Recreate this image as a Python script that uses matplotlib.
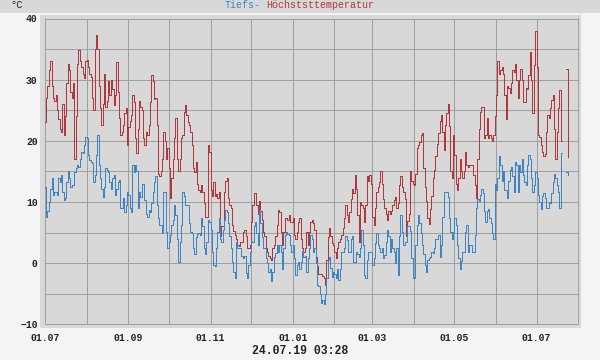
import matplotlib
matplotlib.use("Agg")
import matplotlib.pyplot as plt
import matplotlib.dates as mdates
from matplotlib.patches import Rectangle
from matplotlib.ticker import MultipleLocator
import numpy as np
import pandas as pd

# daily max / min temperature, 01.07.2018 - 24.07.2019
nan = np.nan
tmax = [
    # Jul 18
    23, 27, 29, 31.5, 33, 29, 27, 26.5, 27.5, 25, 23.5, 22, 21.5, 26, 21, 24, 29.5, 32.5, 31.5, 28,
    27, 29.5, 17, 24, 32.5, 34.8, 33, 32, 31, 30.3, 33,
    # Aug
    33.2, 32, 31, 30.5, 27, 25, 35, 37.3, 35, 29, 25.3, 22.6, 26, 31, 25.5, 26.5, 29.7, 27.5, 29.9, 28.5,
    25.8, 27.5, 32.9, 28, 23.7, 21, 21.5, 22.6, 24.5, 25.3, 19.3,
    # Sep
    22.3, 23.2, 24.2, 27.5, 26.4, 20.5, 18, 22, 26.5, 25.5, 25, 20.5, 19.3, 21.5, 21, 22.6, 26.4, 30.7, 29.7, 26.9,
    27, 22.6, 14.6, 14.2, 15, 17.1, 21.5, 19.9, 17.1, 18.8,
    # Oct
    15.5, 10.6, 13.9, 17.1, 20.4, 23.7, 17.1, 15, 17.1, 20.4, 20.9, 24.7, 25.8, 24.2, 23.1, 22.6, 21.5, 19.3, 15.5, 14.9,
    16.6, 13, 12, 11.7, 12.8, 11.7, 9.8, 7.5, 7.5, 19.3, 18.2,
    # Nov
    12, 11, 13.3, 11, 11.3, 10.6, 11.7, 4.5, 6, 6, 11.7, 13.5, 13.9, 10.6, 9.5, 9, 6.2, 5.2, 4.6, 4.0,
    3.0, 2.8, 3.5, 3.5, 5.1, 5.4, 4.5, 2.4, 2.4, 3,
    # Dec
    6.7, 9.5, 11.5, 11.5, 9.5, 8, 10.2, 8.6, 7, 5.1, 4.4, 2.5, 1.9, 1.2, 0.8, 0.5, 2.4, 3, 4.5, 6.2,
    8.7, 8.4, 5.1, 3, 5.1, 7.3, 7.3, 7.1, 7.9, 6.7, 6.7,
    # Jan 19
    7.3, 4.6, 4, 5.1, 6.8, 7.3, 4, 2.4, 1.9, 2.4, 5.1, 3, 5.1, 6.8, 7.1, 6.5, 5.5, 1, -0.5, -1.7,
    -1.8, -1.7, -2.1, -2.5, -3.6, 0.5, 4.2, 5.7, 4.5, 3.3, 3.0,
    # Feb
    1.9, 0.8, 2.4, 3.5, 4, 4.6, 5.7, 7.3, 9.5, 7.9, 6.8, 8.4, 10.5, 12.2, 11.5, 14.4, 12.2, 7.9, 3.5, 10.0,
    9.5, 9, 6.8, 9.5, 14.2, 13.5, 14.4, 13,
    # Mar
    7.6, 6.2, 9, 11.7, 12.5, 13.3, 15, 13, 10.5, 9, 8, 7, 8.6, 8, 8.6, 9.5, 10.3, 10.8, 9, 9.8,
    12.8, 14.2, 12.5, 11.7, 10.5, 4.5, 6.9, 8, 15, 13.5, 13,
    # Apr
    12.8, 14.5, 18.8, 19.3, 19.8, 20.9, 21.2, 15.5, 12.5, 10.2, 7.3, 6.4, 8.8, 10.9, 14, 15.2, 17.5, 19.5, 21.2, 23.2,
    24.2, 21.5, 18.5, 22.6, 24.5, 26, 22.5, 15, 13.9, 20.9,
    # May
    17.6, 13, 11.9, 13.9, 17.1, 15, 13.9, 15, 18.2, 16, 15.8, 16, 16, 16, 14.4, 12.8, 10.6, 17, 22, 24.7,
    25.5, 25.5, 20.4, 21, 23.7, 20.4, 20.9, 20.4, 19.9, 21, 24,
    # Jun
    27.5, 33, 31, 31.5, 32, 31, 27.5, 23.5, 29, 28.6, 27.8, 29.5, 31.5, 31.2, 32.5, 30, 27, 30, 31.8, 30,
    26.4, 26.4, 28.6, 28.4, 30.7, 34.6, 30, 24.5, 32.4, 38,
    # Jul
    32, 20.9, 20.7, 19.3, 18.2, 17.5, 17.9, 21.5, 24.2, 23.7, 25.3, 26.7, 27.5, 22, 17, 21.5, 25.3, 28.3, 19.9, nan,
    nan, nan, 31.8, 17.4,
]
tmin = [
    # Jul 18
    12.5, 7.5, 8.5, 10, 12.2, 13.9, 11.1, 11.7, 11.7, 11.1, 13.9, 13.3, 14.4, 11.7, 10.3, 10.6, 13.3, 15, 13.9, 12.5,
    12.8, 12.8, 14.9, 15.5, 16, 15.8, 17.1, 18.2, 18, 19.3, 20.7,
    # Aug
    20.5, 17.7, 16.8, 16.6, 16.3, 13.3, 14.4, 17.7, 21, 16, 13.9, 12.2, 10.8, 12.5, 15.5, 15.2, 14.9, 13.3, 12.2, 13.9,
    14.4, 11.1, 12.2, 13.3, 13.6, 9.0, 9.0, 10.6, 8.4, 9.5, 11.7,
    # Sep
    11.1, 9.0, 8.4, 16, 14.9, 16, 15, 9, 11.7, 10.8, 13, 13, 10.3, 8, 7.5, 8.7, 8.4, 9.8, 11.7, 13.3,
    14.2, 9.5, 7.3, 6.2, 6.2, 5, 11.7, 11.7, 5.1, 2.4,
    # Oct
    3.5, 4.6, 6.2, 7, 9.5, 7.9, 4, 0.2, 3.5, 6.2, 11.7, 11, 9.5, 9.5, 9.5, 6.5, 5.1, 5, 2.4, 1.5,
    4.2, 4.8, 5, 4.6, 7.3, 6, 2.4, 1.5, 3.5, 7, 6.8,
    # Nov
    5.5, 1.9, -0.3, -0.5, 2.5, 5.1, 7.3, 4, 3.5, 5.5, 7, 8.7, 8.3, 6.5, 4.5, 2.5, 0.2, -1.4, -2.5, 3.5,
    2.5, 2.4, 2.4, 1.2, 0.8, 1.2, -1.6, -2.5, -0.3, 1.9,
    # Dec
    3.6, 3.5, 6, 6.8, 5, 3, 8.7, 6.5, 4.2, 2.4, 2.4, 0.8, 0, -1.4, -1, -3.0, -1.4, 1, 1.6, 3,
    1.9, 3, 1.9, -0.9, 2.4, 4.6, 5.1, 4.8, 4.6, 3, 1.9,
    # Jan 19
    3, 0.8, -1.9, -0.3, 0.2, -0.9, 0.2, 2, 1, 1.2, -1.4, 0.8, 2.5, 4.6, 4, 1.9, 2.5, 0, -3.5, -3.8,
    -5, -6.5, -6, -6.6, -5, -2.5, 0.5, 1, -0.8, -2.3, -1.4,
    # Feb
    -1.7, -2.4, -0.9, -2.8, -0.9, 1.8, 1.9, 2.5, 4.5, 3.8, 1.9, 1.9, 4, 4.5, 0.2, 0.2, 1.9, 1.5, 1, 2.4,
    5.5, 3, -1.9, -2.5, 0.5, 1.9, 1.9, 1.9,
    # Mar
    -0.3, 0.8, 3.3, 5, 3, 2.4, 1.9, 2.4, 0.8, 1.3, 3.5, 5.5, 4.5, 1.9, 4, 2.5, 1.9, 0, 2.4, -1.9,
    4.5, 7.9, 5.1, 3, 3.5, 3.5, 6, 6, 5.2, 0.8, -2.5,
    # Apr
    -2.5, 3, 6.2, 7.9, 6.5, 5, 3, 1.5, -0.3, -1.4, 0.5, 0.8, 1, 1.9, 1.6, 2.4, 4, 4, 4.6, 1,
    3, 7.5, 11.7, 11.7, 11.7, 10.8, 7.3, 5.1, 4, 5.1,
    # May
    7.3, 6.2, 3, 0.8, -0.9, 0.3, 1.9, 1.9, 5.1, 6.2, 1.9, 3, 3, 1.9, 1.9, 4.6, 9.0, 10.5, 10.2, 11.2,
    12.2, 11.5, 8.5, 6.8, 8.6, 8.8, 7.3, 6.5, 5, 4, 13,
    # Jun
    12, 14, 17.5, 16, 13.5, 15, 12, 12, 10.6, 13.5, 15.2, 15.8, 14.3, 11.7, 16.6, 16, 11.7, 16, 14.9, 17.1,
    14.4, 13.3, 12.8, 16, 17.7, 17, 13.9, 11.7, 12.8, 14.9,
    # Jul
    13.9, 11.2, 10, 8.8, 11, 11.5, 10.6, 9, 9, 10, 9.8, 11.5, 13.3, 14.5, 14, 12.8, 11.7, 9, 18.0, nan,
    nan, nan, 14.9, 14.4,
]
days = pd.date_range("2018-07-01", periods=len(tmax), freq="D")
month_labels = ["01.07", "01.09", "01.11", "01.01", "01.03", "01.05", "01.07"]

RED = "#b3373a"
BLUE = "#3d84c4"
GRID = "#a0a0a0"
MONO = "Liberation Mono"
PX = 0.72  # one pixel at 100 dpi

fig = plt.figure(figsize=(6, 3.6), dpi=100, facecolor="#f4f4f4")
# header band and panel behind the plot
fig.patches.append(Rectangle((0, 1 - 13 / 360), 1, 13 / 360, transform=fig.transFigure,
                             facecolor="#d8d8d8", edgecolor="none", zorder=-2))
fig.patches.append(Rectangle((40 / 600, 32 / 360), 541 / 600, 313 / 360, transform=fig.transFigure,
                             facecolor="#d8d8d8", edgecolor="none", zorder=-2))

ax = fig.add_axes([44.8 / 600, 1 - 324.3 / 360, 533.5 / 600, 305.8 / 360])
ax.set_zorder(2)
ax.set_facecolor("#d8d8d8")

ax.plot(days, tmax, color=RED, lw=PX, drawstyle="steps-post", antialiased=False, zorder=3)
ax.plot(days, tmin, color=BLUE, lw=PX, drawstyle="steps-post", antialiased=False, zorder=3)

ax.set_xlim(pd.Timestamp("2018-07-01"), pd.Timestamp("2019-08-01"))
ax.set_ylim(-10, 40)

ax.xaxis.set_major_locator(mdates.MonthLocator(bymonth=[1, 3, 5, 7, 9, 11]))
ax.xaxis.set_minor_locator(mdates.MonthLocator())
ax.set_xticks(ax.get_xticks())
ax.set_xticklabels(month_labels)
ax.yaxis.set_major_locator(MultipleLocator(10))
ax.yaxis.set_minor_locator(MultipleLocator(5))

ax.grid(True, which="both", color=GRID, lw=PX, antialiased=False)
ax.set_axisbelow(True)
ax.tick_params(which="both", length=0)
ax.tick_params(axis="x", pad=6)
ax.tick_params(axis="y", pad=5)
for lab in ax.get_xticklabels() + ax.get_yticklabels():
    lab.set_fontfamily(MONO)
    lab.set_fontsize(7)
    lab.set_fontweight("bold")
    lab.set_color("#222222")
for s in ax.spines.values():
    s.set_color(GRID)
    s.set_linewidth(PX)
    s.set_antialiased(False)

# header texts
fig.text(10 / 600, 1 - 5 / 360, "°C", family=MONO, fontsize=7.5, va="center", ha="left", color="#222222")
fig.text(224.5 / 600, 1 - 5.5 / 360, "Tiefs-", family=MONO, fontsize=7.2, va="center", ha="left", color=BLUE)
fig.text(266.5 / 600, 1 - 5.5 / 360, "Höchststtemperatur", family=MONO, fontsize=7.2, va="center",
         ha="left", color=RED)
fig.text(0.5, 1 - 351 / 360, "24.07.19 03:28", family=MONO, fontsize=8.3, fontweight="bold",
         va="center", ha="center", color="#222222")

fig.savefig("out.png", dpi=100, facecolor=fig.get_facecolor())
